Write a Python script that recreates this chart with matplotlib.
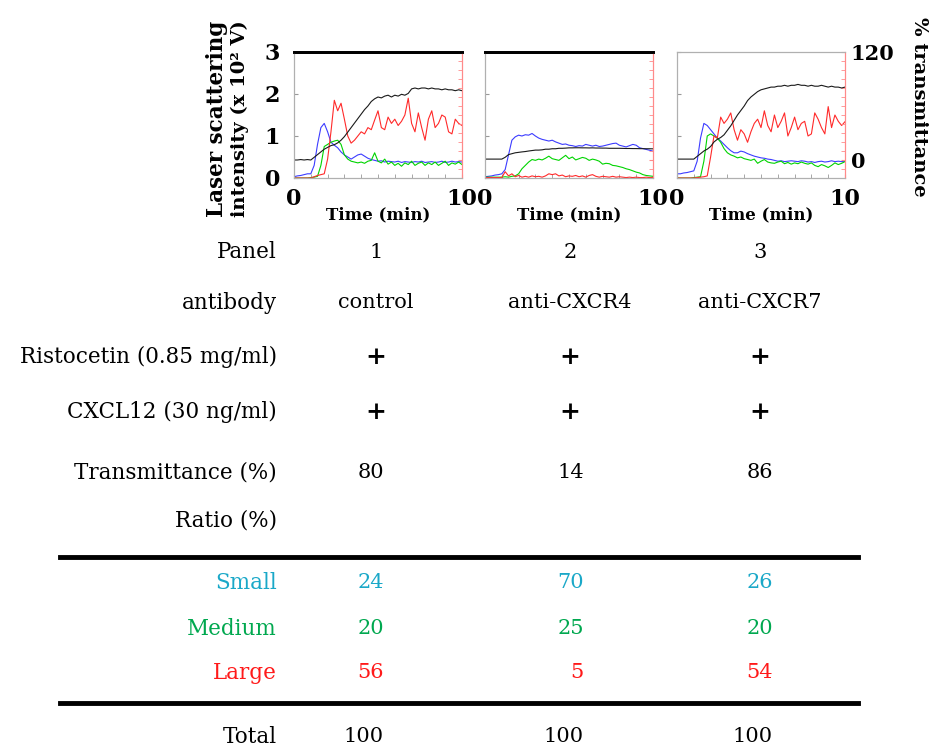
import numpy as np
import matplotlib.pyplot as plt
from matplotlib.ticker import MultipleLocator, FixedLocator

plt.rcParams['font.family'] = 'DejaVu Serif'

# time axis (min), one reading every 0.2 min
time_min = np.arange(51) * 0.2

# panel 1 : control antibody
p1_small = [0.03, 0.05, 0.06, 0.08, 0.10, 0.10, 0.30, 0.80, 1.20, 1.30,
            1.10, 0.85, 0.78, 0.72, 0.62, 0.55, 0.50, 0.45, 0.50, 0.55,
            0.57, 0.52, 0.47, 0.44, 0.42, 0.40, 0.41, 0.38, 0.40, 0.39,
            0.38, 0.40, 0.37, 0.39, 0.38, 0.37, 0.39, 0.38, 0.40, 0.37,
            0.38, 0.39, 0.37, 0.38, 0.40, 0.37, 0.38, 0.40, 0.38, 0.39,
            0.38]
p1_medium = [0, 0, 0, 0, 0, 0.01, 0.02, 0.04, 0.30, 0.75,
             0.80, 0.85, 0.88, 0.90, 0.80, 0.55, 0.45, 0.40, 0.38, 0.36,
             0.38, 0.35, 0.40, 0.42, 0.60, 0.40, 0.36, 0.45, 0.33, 0.38,
             0.30, 0.35, 0.28, 0.36, 0.32, 0.40, 0.30, 0.35, 0.38, 0.30,
             0.36, 0.32, 0.38, 0.30, 0.35, 0.40, 0.30, 0.36, 0.33, 0.38,
             0.32]
p1_large = [0, 0, 0, 0, 0, 0, 0.03, 0.06, 0.08, 0.10,
            0.45, 1.10, 1.85, 1.60, 1.78, 1.40, 1.00, 0.83, 0.90, 1.00,
            1.10, 1.05, 1.20, 1.15, 1.38, 1.60, 1.20, 1.15, 1.45, 1.30,
            1.40, 1.25, 1.35, 1.50, 1.90, 1.30, 1.10, 1.55, 1.20, 0.90,
            1.40, 1.60, 1.20, 1.30, 1.50, 1.45, 1.10, 1.05, 1.40, 1.30,
            1.25]
p1_trans = [0, 0, 0.5, 0, 0.5, 0, 3, 6, 9, 12,
            14, 16, 17, 19, 22, 26, 31, 36, 41, 46,
            51, 56, 60, 65, 68, 70, 69, 71, 72, 70,
            72, 71, 73, 72, 74, 79, 80, 79, 80, 80,
            79, 80, 79, 79, 78, 79, 78, 78, 77, 78,
            77]

# panel 2 : anti-CXCR4
p2_small = [0.03, 0.04, 0.05, 0.07, 0.08, 0.10, 0.20, 0.55, 0.90, 0.98,
            1.02, 1.00, 1.03, 1.02, 1.06, 1.00, 0.95, 0.92, 0.90, 0.88,
            0.90, 0.86, 0.83, 0.80, 0.81, 0.78, 0.77, 0.75, 0.77, 0.76,
            0.80, 0.78, 0.76, 0.78, 0.75, 0.76, 0.78, 0.80, 0.82, 0.83,
            0.78, 0.76, 0.74, 0.77, 0.80, 0.78, 0.72, 0.70, 0.68, 0.66,
            0.64]
p2_medium = [0.02, 0.02, 0.02, 0.02, 0.02, 0.02, 0.03, 0.02, 0.04, 0.05,
             0.10, 0.22, 0.30, 0.38, 0.44, 0.42, 0.45, 0.43, 0.47, 0.52,
             0.46, 0.44, 0.42, 0.48, 0.54, 0.46, 0.50, 0.43, 0.46, 0.49,
             0.47, 0.42, 0.45, 0.43, 0.40, 0.33, 0.35, 0.34, 0.30, 0.29,
             0.27, 0.25, 0.22, 0.20, 0.17, 0.14, 0.12, 0.08, 0.06, 0.05,
             0.04]
p2_large = [0.01, 0.01, 0.01, 0.01, 0.01, 0.01, 0.15, 0.05, 0.10, 0.03,
            0.06, 0.02, 0.04, 0.02, 0.05, 0.03, 0.04, 0.02, 0.05, 0.10,
            0.08, 0.10, 0.05, 0.07, 0.03, 0.05, 0.04, 0.06, 0.03, 0.05,
            0.02, 0.06, 0.08, 0.04, 0.02, 0.04, 0.03, 0.02, 0.04, 0.02,
            0.03, 0.02, 0.01, 0.02, 0.01, 0.02, 0.01, 0.01, 0.02, 0.01,
            0.01]
p2_trans = [1, 1, 1, 1, 1, 1, 3, 6, 7, 8,
            8.5, 9, 9.4, 10, 10.5, 11, 11, 11.3, 12, 12,
            12.5, 12.5, 13, 13, 13.2, 13.5, 13.5, 13.6, 13.6, 13.5,
            13.5, 13.4, 13.5, 13.3, 13.3, 13.2, 13.2, 13, 13, 13,
            13, 12.9, 12.8, 12.8, 12.7, 12.7, 12.6, 12.6, 12.5, 12.5,
            12.4]

# panel 3 : anti-CXCR7
p3_small = [0.10, 0.10, 0.12, 0.13, 0.15, 0.17, 0.40, 0.95, 1.30, 1.25,
            1.15, 1.05, 0.95, 0.88, 0.80, 0.72, 0.65, 0.60, 0.60, 0.64,
            0.62, 0.58, 0.55, 0.52, 0.50, 0.48, 0.47, 0.45, 0.44, 0.42,
            0.40, 0.41, 0.39, 0.40, 0.41, 0.40, 0.39, 0.41, 0.40, 0.38,
            0.39, 0.37, 0.39, 0.40, 0.38, 0.39, 0.41, 0.39, 0.40, 0.39,
            0.40]
p3_medium = [0, 0, 0, 0, 0, 0.01, 0.02, 0.03, 0.40, 1.00,
             1.05, 1.00, 0.95, 0.85, 0.70, 0.60, 0.55, 0.52, 0.48, 0.50,
             0.46, 0.44, 0.42, 0.45, 0.35, 0.40, 0.44, 0.38, 0.36, 0.35,
             0.38, 0.40, 0.34, 0.37, 0.33, 0.36, 0.34, 0.38, 0.35, 0.33,
             0.36, 0.30, 0.27, 0.32, 0.29, 0.25, 0.30, 0.36, 0.32, 0.35,
             0.39]
p3_large = [0, 0, 0, 0, 0, 0, 0.01, 0.02, 0.03, 0.05,
            0.50, 1.00, 0.95, 1.45, 1.30, 1.40, 1.55, 1.15, 0.90, 1.15,
            1.05, 0.85, 1.10, 1.30, 1.40, 1.20, 1.60, 1.25, 1.10, 1.50,
            1.20, 1.35, 1.55, 1.00, 1.20, 1.45, 1.15, 1.30, 1.35, 1.00,
            1.05, 1.55, 1.40, 1.20, 1.05, 1.70, 1.20, 1.50, 1.35, 1.25,
            1.34]
p3_trans = [1, 1, 1, 1, 1, 1, 4, 7, 10, 12,
            15, 20, 23, 25, 28, 33, 38, 44, 50, 55,
            60, 66, 70, 73, 76, 78, 79, 80, 81, 81,
            82, 82, 83, 82, 83, 83, 84, 83, 83, 82,
            83, 82, 82, 83, 82, 81, 82, 81, 81, 80,
            81]

# table
panel_ids = ['1', '2', '3']
antibodies = ['control', 'anti-CXCR4', 'anti-CXCR7']
ristocetin = ['+', '+', '+']
cxcl12 = ['+', '+', '+']
transmittance = [80, 14, 86]
ratio_small = [24, 70, 26]
ratio_medium = [20, 25, 20]
ratio_large = [56, 5, 54]
ratio_total = [100, 100, 100]

W, H = 932, 749
fig = plt.figure(figsize=(W / 100, H / 100), dpi=100)


def px(x, y):
    return x / W, 1 - y / H


panels = [
    (294, p1_small, p1_medium, p1_large, p1_trans),
    (485, p2_small, p2_medium, p2_large, p2_trans),
    (677, p3_small, p3_medium, p3_large, p3_trans),
]

for i, (x0, small, medium, large, trans) in enumerate(panels):
    ax = fig.add_axes([x0 / W, 1 - 178 / H, 168 / W, 126 / H])
    ax.plot(time_min, small, color='#3c3cff', lw=0.8)
    ax.plot(time_min, medium, color='#00d400', lw=0.8)
    ax.plot(time_min, large, color='#ff2a2a', lw=0.8)
    ax.set_xlim(0, 10)
    ax.set_ylim(0, 3)

    ax2 = ax.twinx()
    ax2.plot(time_min, trans, color='#1a1a1a', lw=0.8)
    ax2.set_ylim(-20, 120)

    for a in (ax, ax2):
        a.spines['left'].set_color('#b0b0b0')
        a.spines['bottom'].set_color('#b0b0b0')
        a.spines['right'].set_color('#ff8a8a')
        if i < 2:
            a.spines['top'].set_color('black')
            a.spines['top'].set_linewidth(2)
        else:
            a.spines['top'].set_color('#b0b0b0')

    ax.xaxis.set_major_locator(FixedLocator([0, 10]))
    ax.xaxis.set_minor_locator(MultipleLocator(1))
    ax.set_xticklabels(['0', '10'])
    ax.yaxis.set_major_locator(FixedLocator([0, 1, 2, 3]))
    ax.tick_params(which='both', direction='in', length=3, color='#999999',
                   labelsize=16)
    ax.tick_params(axis='x', pad=7)
    ax.tick_params(axis='y', pad=10)
    for lab in ax.get_xticklabels() + ax.get_yticklabels():
        lab.set_fontweight('bold')
    if i > 0:
        ax.set_yticklabels([])

    ax2.yaxis.set_major_locator(FixedLocator([0, 120]))
    ax2.yaxis.set_minor_locator(MultipleLocator(10))
    ax2.tick_params(which='both', direction='in', length=3, color='#ff8a8a',
                    labelsize=15, pad=4)
    if i < 2:
        ax2.set_yticklabels([])
    else:
        ax2.set_yticklabels(['0', '120'], fontweight='bold')

    ax.text(0.5, -0.29, 'Time (min)', transform=ax.transAxes, ha='center',
            va='center', fontsize=12, fontweight='bold')

# axis titles
fig.text(*px(217, 217), 'Laser scattering', rotation=90, ha='center',
         va='bottom', fontsize=15.5, fontweight='bold')
fig.text(*px(240, 217), 'intensity (x 10² V)', rotation=90, ha='center',
         va='bottom', fontsize=14, fontweight='bold')
fig.text(*px(919, 107), '% transmittance', rotation=-90, ha='center',
         va='center', fontsize=14, fontweight='bold')

# table
col_c = [376, 570, 760]
col_r = [384, 584, 773]
lab_x = 277
fs = 15.5

rows = [
    ('Panel', 252, panel_ids, 'center', 'black'),
    ('antibody', 303, antibodies, 'center', 'black'),
    ('Ristocetin (0.85 mg/ml)', 357, ristocetin, 'center', 'black'),
    ('CXCL12 (30 ng/ml)', 412, cxcl12, 'center', 'black'),
    ('Transmittance (%)', 473, transmittance, 'right', 'black'),
    ('Ratio (%)', 521, None, 'right', 'black'),
    ('Small', 583, ratio_small, 'right', '#1aa8c8'),
    ('Medium', 629, ratio_medium, 'right', '#00a84f'),
    ('Large', 673, ratio_large, 'right', '#ff1a1a'),
    ('Total', 737, ratio_total, 'right', 'black'),
]

for label, y, vals, align, col in rows:
    fig.text(*px(lab_x, y), label, ha='right', va='center', fontsize=fs,
             color=col)
    if vals is None:
        continue
    for j, v in enumerate(vals):
        x = col_c[j] if align == 'center' else col_r[j]
        if v == '+':
            fig.text(*px(x, y), v, ha='center', va='center', fontsize=18,
                     fontweight='bold', color=col)
        else:
            fig.text(*px(x, y), str(v), ha=align, va='center', fontsize=15,
                     color=col)

for y in (557, 703):
    fig.add_artist(plt.Line2D([60 / W, 858 / W], [1 - y / H, 1 - y / H],
                              color='black', lw=3.5))

fig.savefig('out.png', dpi=100)
